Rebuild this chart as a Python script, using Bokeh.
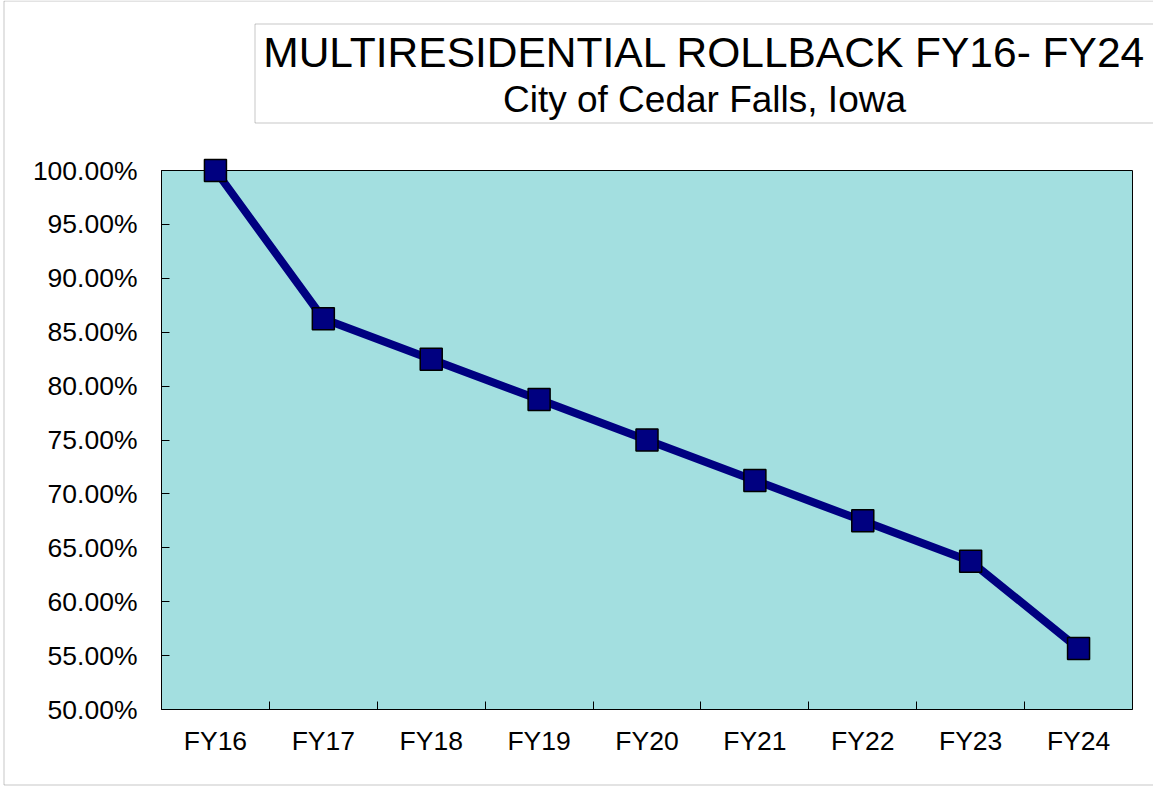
from bokeh.plotting import figure
from bokeh.models import Range1d, FixedTicker, Label, BoxAnnotation, PrintfTickFormatter
from bokeh.embed import file_html
from bokeh.resources import INLINE

categories = ["FY16", "FY17", "FY18", "FY19", "FY20", "FY21", "FY22", "FY23", "FY24"]
rollback_pct = [100.0, 86.25, 82.5, 78.75, 75.0, 71.25, 67.5, 63.75, 55.65]
y_ticks = [50, 55, 60, 65, 70, 75, 80, 85, 90, 95, 100]
title_text = "MULTIRESIDENTIAL ROLLBACK FY16- FY24"
subtitle_text = "City of Cedar Falls, Iowa"

FONT = "Liberation Sans"
W, H = 1153, 786
# plot-area placement on the canvas (pixels)
PL, PR, PT, PB = 161, 1132, 170, 709

n = len(categories)
y0, y1 = y_ticks[0], y_ticks[-1]
xpp = n / (PR - PL)          # data units per pixel (x)
ypp = (y1 - y0) / (PB - PT)  # data units per pixel (y)
x_range = Range1d(0 - PL * xpp, n + (W - PR) * xpp)
y_range = Range1d(y0 - (H - PB) * ypp, y1 + PT * ypp)

xs = [i + 0.5 for i in range(n)]

p = figure(width=W, height=H, output_backend="svg", toolbar_location=None,
           x_range=x_range, y_range=y_range,
           min_border_left=0, min_border_right=0, min_border_top=0, min_border_bottom=0)

p.background_fill_color = "white"
p.border_fill_color = "white"
p.outline_line_color = None
p.xgrid.visible = False
p.ygrid.visible = False

# outer chart border and title box
p.add_layout(BoxAnnotation(left=3.5, right=W + 50, top=0.5, bottom=784.5,
                           left_units="canvas", right_units="canvas", top_units="canvas", bottom_units="canvas",
                           fill_color=None, line_color="#444444", line_width=1, level="underlay"))
p.add_layout(BoxAnnotation(left=254.5, right=W + 50, top=23.5, bottom=122.5,
                           left_units="canvas", right_units="canvas", top_units="canvas", bottom_units="canvas",
                           fill_color=None, line_color="#444444", line_width=1, level="underlay"))

# plot area
p.quad(left=[0], right=[n], bottom=[y0], top=[y1], fill_color="#a3dfe0",
       line_color="black", line_width=1)

# x axis (drawn at the bottom of the plot area)
p.xaxis.fixed_location = y0
p.xaxis.bounds = (0, n)
p.xaxis.ticker = FixedTicker(ticks=xs, minor_ticks=list(range(1, n)))
p.xaxis.major_label_overrides = {x: c for x, c in zip(xs, categories)}
p.xaxis.major_tick_in = 0
p.xaxis.major_tick_out = 0
p.xaxis.minor_tick_in = 8
p.xaxis.minor_tick_out = 0
p.xaxis.minor_tick_line_color = "black"
p.xaxis.axis_line_color = "black"
p.xaxis.major_label_text_font = FONT
p.xaxis.major_label_text_font_size = "26.5px"
p.xaxis.major_label_text_color = "black"
p.xaxis.major_label_standoff = 16

# y axis (drawn at the left of the plot area)
p.yaxis.fixed_location = 0
p.yaxis.bounds = (y0, y1)
p.yaxis.ticker = FixedTicker(ticks=y_ticks, minor_ticks=[])
p.yaxis.formatter = PrintfTickFormatter(format="%.2f%%")
p.yaxis.major_tick_in = 8
p.yaxis.major_tick_out = 0
p.yaxis.minor_tick_in = 0
p.yaxis.minor_tick_out = 0
p.yaxis.major_tick_line_color = "black"
p.yaxis.axis_line_color = "black"
p.yaxis.major_label_text_font = FONT
p.yaxis.major_label_text_font_size = "26.5px"
p.yaxis.major_label_text_color = "black"
p.yaxis.major_label_standoff = 24

p.line(xs, rollback_pct, line_color="#000080", line_width=8)
p.scatter(xs, rollback_pct, marker="square", size=22, fill_color="#000080",
          line_color="black", line_width=1.5)

# titles (screen units: from the frame's bottom-left, y up)
p.add_layout(Label(x=704, y=H - 52, x_units="screen", y_units="screen", text=title_text,
                   text_font=FONT, text_font_size="42.5px", text_align="center",
                   text_baseline="alphabetic", text_color="black"))
p.add_layout(Label(x=704, y=H - 99, x_units="screen", y_units="screen", text=subtitle_text,
                   text_font=FONT, text_font_size="37px", text_align="center",
                   text_baseline="alphabetic", text_color="black"))

open("out.html", "w").write(file_html(p, INLINE))
